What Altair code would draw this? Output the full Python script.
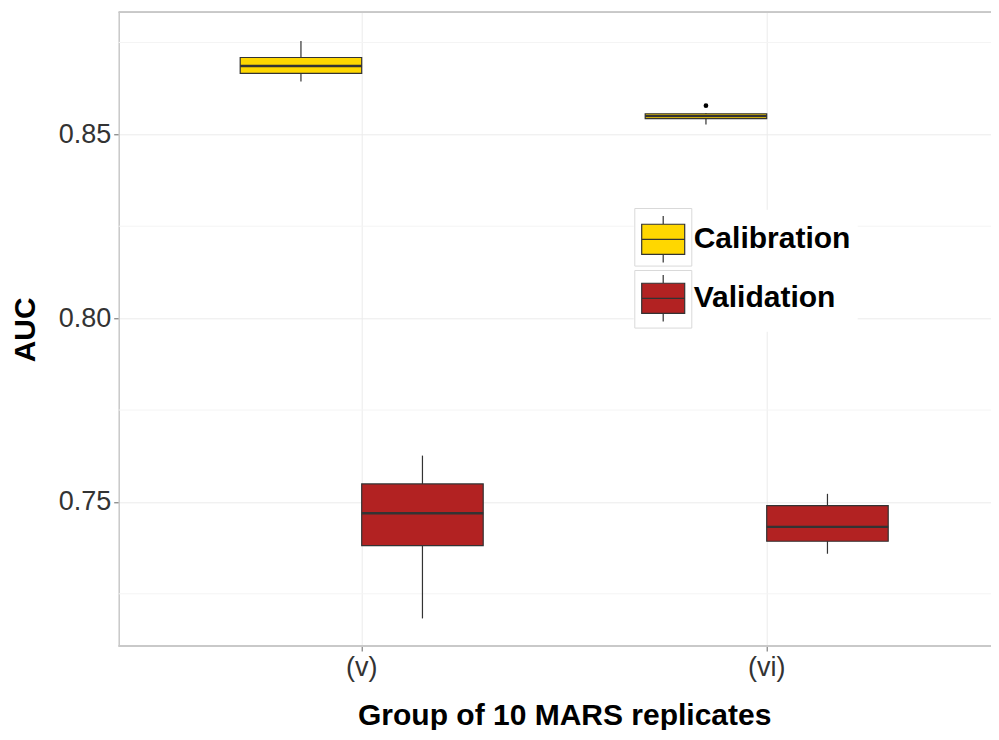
import altair as alt
import pandas as pd

# ---- data ----
groups = ["(v)", "(v)", "(vi)", "(vi)"]
series = ["Calibration", "Validation", "Calibration", "Validation"]
whisker_low = [0.8644, 0.7183, 0.8527, 0.7359]
q1 = [0.8666, 0.7381, 0.8543, 0.7393]
median = [0.8686, 0.7469, 0.8550, 0.7432]
q3 = [0.8709, 0.7549, 0.8556, 0.7490]
whisker_high = [0.8754, 0.7626, 0.8558, 0.7522]

outlier_group = ["(vi)"]
outlier_series = ["Calibration"]
outlier_value = [0.8578]

category_order = ["(v)", "(vi)"]
series_order = ["Calibration", "Validation"]
key_order = ["Calibration key", "Validation key"]
series_colors = ["#FFD700", "#B22222"]
y_ticks = [0.75, 0.80, 0.85]
minor_grid = [0.725, 0.775, 0.825, 0.875]
y_domain = [0.7108, 0.8832]

FONT = "Liberation Sans"
BORDER = "#c8c8c8"

box_df = pd.DataFrame({
    "group": groups, "series": series, "lo": whisker_low, "q1": q1,
    "med": median, "q3": q3, "hi": whisker_high,
})
out_df = pd.DataFrame({"group": outlier_group, "series": outlier_series, "v": outlier_value})
minor_df = pd.DataFrame({"v": minor_grid})

yscale = alt.Scale(domain=y_domain, nice=False, zero=False)
# the panel continues past the right edge of the picture, as in the reference:
# outer padding is split unevenly (align) so the visible part matches
xscale = alt.Scale(domain=category_order, paddingInner=0.4, paddingOuter=0.2769, align=0.5417)
xoscale = alt.Scale(domain=series_order, paddingInner=0, paddingOuter=0)
cscale = alt.Scale(domain=series_order, range=series_colors)

yaxis = alt.Axis(
    title="AUC", values=y_ticks, format=".2f",
    domain=True, domainColor=BORDER, domainWidth=1.5,
    labelFont=FONT, labelFontSize=27, labelColor="#333333", labelPadding=3,
    tickColor="#666666", tickSize=5, grid=True, gridColor="#ebebeb", gridWidth=1,
    titleFont=FONT, titleFontSize=30, titleFontWeight="bold", titleColor="#000000",
    titleAngle=270, titleX=-93, titleY=317, titleAlign="center", titleBaseline="middle",
)
xaxis = alt.Axis(
    title="Group of 10 MARS replicates", labelAngle=0, bandPosition=0.5, domain=False,
    labelFont=FONT, labelFontSize=27, labelColor="#333333", labelPadding=3,
    tickColor="#666666", tickSize=5, grid=True, gridColor="#ebebeb", gridWidth=1,
    titleFont=FONT, titleFontSize=30, titleFontWeight="bold", titleColor="#000000",
    titleX=445.5, titleY=78, titleBaseline="alphabetic", titleAlign="center",
)

X = alt.X("group:N", scale=xscale, axis=xaxis)
XO = alt.XOffset("series:N", scale=xoscale)

legend_symbol = "M-1,-0.7H1V0.7H-1Z M-1,0H1 M0,-0.7V-1.08 M0,0.7V1.08"
key_square = "M-1,-1.01H1V1.01H-1Z"

minor = alt.Chart(minor_df).mark_rule(color="#f4f4f4", strokeWidth=1).encode(
    y=alt.Y("v:Q", scale=yscale, axis=yaxis)
)

top_border = alt.Chart(minor_df).mark_rule(color=BORDER, strokeWidth=1.5).encode(
    y=alt.datum(y_domain[1])
)
bottom_border = alt.Chart(minor_df).mark_rule(color=BORDER, strokeWidth=1.5).encode(
    y=alt.datum(y_domain[0])
)

# outlined key backgrounds drawn over the legend keys
key_boxes = alt.Chart(box_df).transform_filter("datum.q1 < 0").transform_calculate(
    key="datum.series + ' key'"
).mark_point(filled=False).encode(
    shape=alt.Shape("key:N", scale=alt.Scale(domain=key_order, range=[key_square, key_square]),
                    legend=alt.Legend(
                        title=None, orient="none", legendX=515.6, legendY=196, zindex=2,
                        symbolSize=3249, symbolStrokeColor="#d9d9d9",
                        symbolFillColor="transparent",
                        symbolStrokeWidth=1, symbolOpacity=1,
                        labelExpr="''", labelFontSize=1, labelOffset=0,
                        rowPadding=0, padding=0,
                    )),
)

whiskers = alt.Chart(box_df).mark_rule(color="#333333", strokeWidth=1.2).encode(
    x=X, xOffset=XO,
    y=alt.Y("lo:Q", scale=yscale, axis=yaxis), y2="hi:Q",
)

boxes = alt.Chart(box_df).mark_bar(stroke="#333333", strokeWidth=1.2).encode(
    x=X, xOffset=XO,
    y=alt.Y("q1:Q", scale=yscale, axis=yaxis), y2="q3:Q",
    color=alt.Color("series:N", scale=cscale, legend=alt.Legend(
        title=None, orient="none", legendX=515, legendY=197.5, zindex=1,
        symbolType=legend_symbol, symbolSize=1849, symbolStrokeColor="#333333",
        symbolStrokeWidth=1.2, symbolOpacity=1,
        labelFont=FONT, labelFontSize=30, labelFontWeight="bold", labelColor="#000000",
        labelOffset=8, rowPadding=6, padding=7, fillColor="white",
    )),
)

medians = alt.Chart(box_df).mark_bar(fill=None, stroke="#333333", strokeWidth=2.4).encode(
    x=X, xOffset=XO,
    y=alt.Y("med:Q", scale=yscale, axis=yaxis), y2="med:Q",
)

outliers = alt.Chart(out_df).mark_circle(size=22, color="#000000", opacity=1).encode(
    x=X, xOffset=XO,
    y=alt.Y("v:Q", scale=yscale, axis=yaxis),
)

chart = alt.layer(minor, top_border, bottom_border, key_boxes, whiskers, boxes, medians,
                  outliers).properties(
    width=872.3, height=633.7,
    autosize=alt.AutoSizeParams(type="none"),
    padding={"left": 110.7, "top": 4.3, "right": 0, "bottom": 84},
    background="white",
).configure_view(stroke=None)

chart.save("out.html", embed_options={"renderer": "svg", "actions": False})
